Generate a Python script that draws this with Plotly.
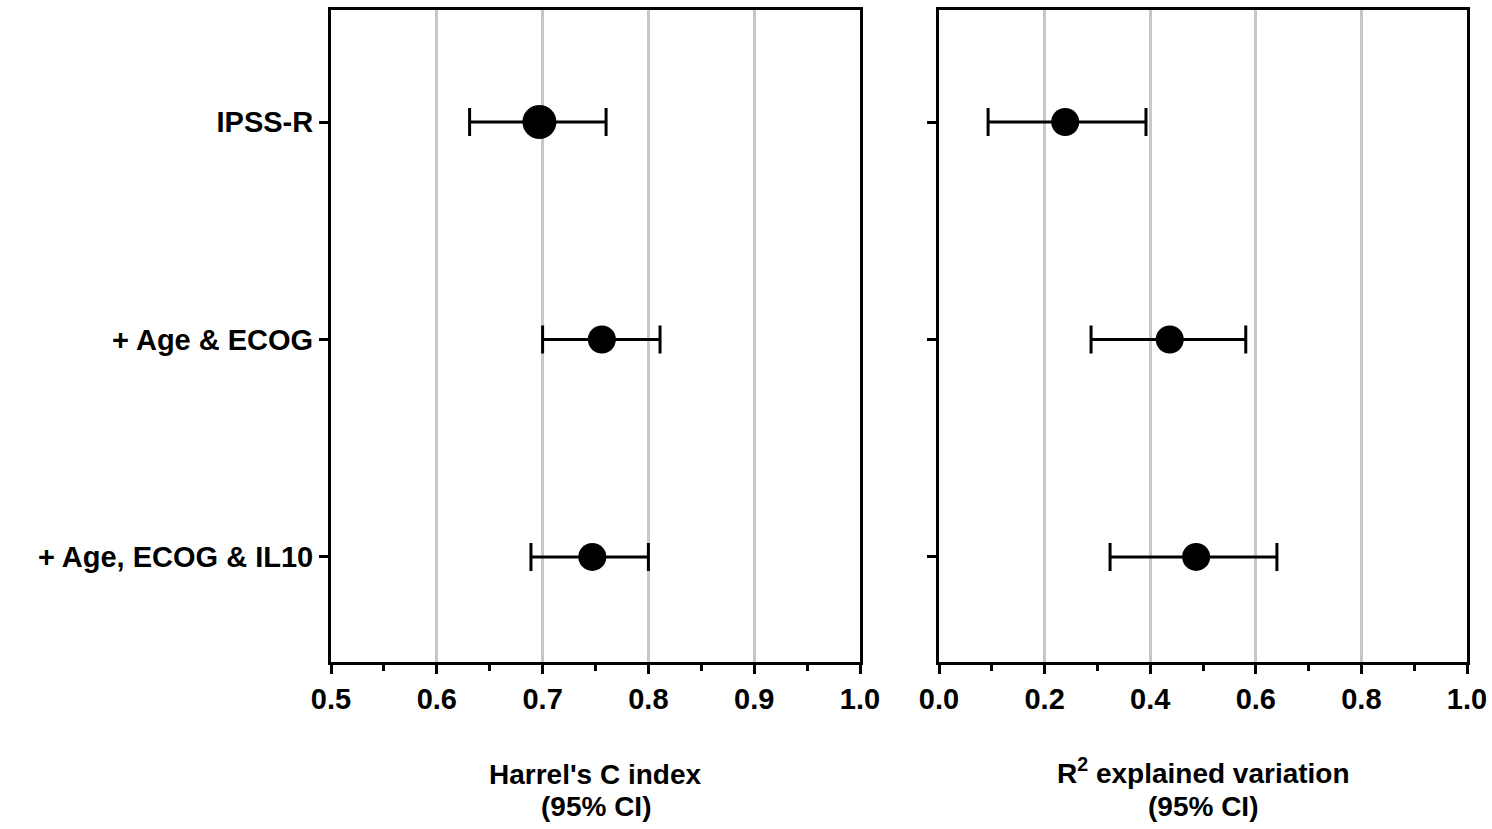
import plotly.graph_objects as go

models = ["IPSS-R", "+ Age & ECOG", "+ Age, ECOG & IL10"]

c_index = [0.697, 0.756, 0.747]
c_lower = [0.631, 0.700, 0.689]
c_upper = [0.760, 0.811, 0.800]

r2 = [0.239, 0.437, 0.487]
r2_lower = [0.093, 0.288, 0.324]
r2_upper = [0.392, 0.581, 0.640]

c_marker_sizes = [34, 28, 28]
r2_marker_sizes = [28, 28, 28]

c_ticks = [0.5, 0.6, 0.7, 0.8, 0.9, 1.0]
r2_ticks = [0.0, 0.2, 0.4, 0.6, 0.8, 1.0]

FONT = "Liberation Sans, Arial, sans-serif"
W, H = 1492, 829

fig = go.Figure()

fig.add_trace(go.Scatter(
    x=c_index, y=models, mode="markers",
    marker=dict(color="black", size=c_marker_sizes, opacity=1, line=dict(width=0)),
    error_x=dict(type="data", symmetric=False,
                 array=[u - v for u, v in zip(c_upper, c_index)],
                 arrayminus=[v - l for v, l in zip(c_index, c_lower)],
                 color="black", thickness=3, width=14),
    xaxis="x", yaxis="y", showlegend=False, hoverinfo="x+y",
))

fig.add_trace(go.Scatter(
    x=r2, y=models, mode="markers",
    marker=dict(color="black", size=r2_marker_sizes, opacity=1, line=dict(width=0)),
    error_x=dict(type="data", symmetric=False,
                 array=[u - v for u, v in zip(r2_upper, r2)],
                 arrayminus=[v - l for v, l in zip(r2, r2_lower)],
                 color="black", thickness=3, width=14),
    xaxis="x2", yaxis="y2", showlegend=False, hoverinfo="x+y",
))

tickfont = dict(family=FONT, size=29, color="black", weight="bold")

def xaxis(domain, rng, ticks, minor_dtick, anchor):
    return dict(
        domain=domain, range=rng, anchor=anchor, automargin=False,
        tickvals=ticks, ticktext=[f"{t:.1f}" for t in ticks],
        ticks="outside", ticklen=9, tickwidth=3, tickcolor="black",
        showline=True, linecolor="black", linewidth=3, mirror=True,
        showgrid=True, gridcolor="#c8c8c8", gridwidth=2.5,
        zeroline=False, tickfont=tickfont,
        minor=dict(dtick=minor_dtick, ticks="outside", ticklen=6,
                   tickwidth=3, tickcolor="black", showgrid=False),
    )

def yaxis(anchor, labels):
    return dict(
        domain=[1 - 662 / H, 1 - 10 / H], anchor=anchor, automargin=False,
        type="category", categoryorder="array", categoryarray=models,
        range=[2.483, -0.515],
        ticks="outside", ticklen=9, tickwidth=3, tickcolor="black",
        showline=True, linecolor="black", linewidth=3, mirror=True,
        showgrid=False, zeroline=False,
        showticklabels=labels,
        tickfont=dict(family=FONT, size=29, color="black", weight="bold"),
    )

fig.update_layout(
    width=W, height=H,
    margin=dict(l=0, r=0, t=0, b=0, autoexpand=False),
    paper_bgcolor="white", plot_bgcolor="white",
    xaxis=xaxis([331 / W, 860 / W], [0.5, 1.0], c_ticks, 0.05, "y"),
    yaxis=yaxis("x", True),
    xaxis2=xaxis([939 / W, 1467 / W], [0.0, 1.0], r2_ticks, 0.1, "y2"),
    yaxis2=yaxis("x2", False),
)

titlefont = dict(family=FONT, size=28, color="black", weight="bold")
titles = [
    ((331 + 860) / 2 / W, 774, "Harrel's C index", "(95% CI)"),
    ((939 + 1467) / 2 / W, 771, "R<sup>2</sup> explained variation", "(95% CI)"),
]
for xc, y1, line1, line2 in titles:
    fig.add_annotation(x=xc, y=1 - y1 / H, xref="paper", yref="paper",
                       text=line1, showarrow=False, font=titlefont,
                       xanchor="center", yanchor="middle")
    fig.add_annotation(x=xc, y=1 - 806 / H, xref="paper", yref="paper",
                       text=line2, showarrow=False, font=titlefont,
                       xanchor="center", yanchor="middle")

fig.write_html("out.html")
